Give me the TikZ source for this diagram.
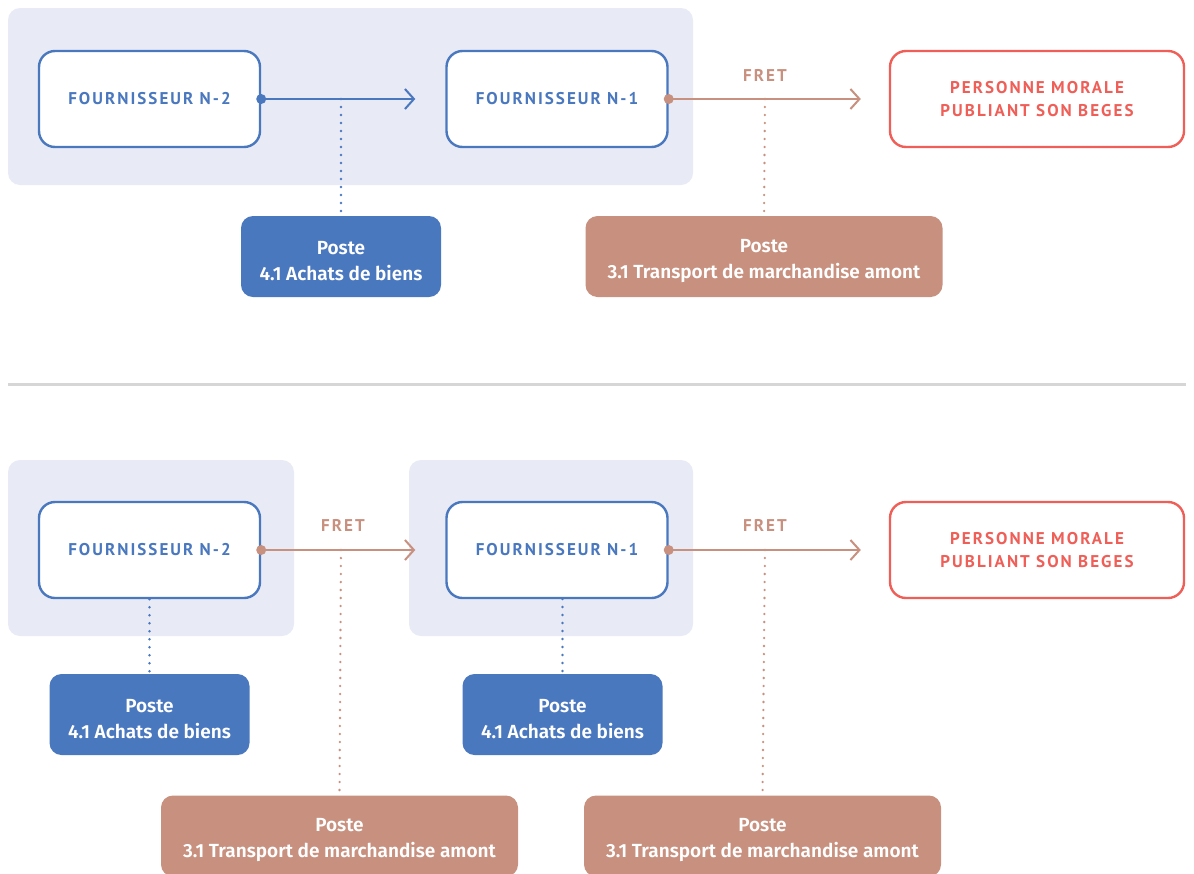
\documentclass[tikz,border=0pt]{standalone}
\usepackage{fontspec}
\usetikzlibrary{arrows.meta}
\setmainfont{Fira Sans}
\newfontfamily\capfont[LetterSpace=12]{PT Sans}
\newfontfamily\postefont{Fira Sans SemiBold}
\definecolor{blueA}{HTML}{4A78BF}
\definecolor{brownA}{HTML}{C8907E}
\definecolor{redA}{HTML}{EF5F58}
\definecolor{grpbg}{HTML}{E8EAF5}
\definecolor{sepgray}{HTML}{D6D6D6}
\newcommand{\topstrut}{\rule{0pt}{22pt}}
\begin{document}
\begin{tikzpicture}[x=1pt,y=-1pt,
  grp/.style={fill=grpbg, rounded corners=12pt},
  ent/.style={draw=blueA, line width=2.4pt, fill=white, rounded corners=16pt,
    minimum width=221pt, minimum height=96pt, inner sep=0pt, align=center,
    text=blueA, font=\capfont\bfseries\fontsize{17}{23}\selectfont},
  entred/.style={ent, draw=redA, text=redA, minimum width=294pt},
  postebox/.style={rounded corners=12pt, minimum height=81pt, inner sep=0pt,
    align=center, text=white, font=\postefont\fontsize{19}{26}\selectfont},
  pblue/.style={postebox, fill=blueA, minimum width=200pt},
  pbrown/.style={postebox, fill=brownA, minimum width=357pt},
  flow/.style={line width=2pt, -{Straight Barb[length=9pt,width=20pt,line width=2pt]}},
  dots/.style={line width=2.6pt, line cap=round, dash pattern=on 0pt off 8pt},
  fretlbl/.style={text=brownA, font=\capfont\bfseries\fontsize{17}{20}\selectfont}
]
\useasboundingbox (0,0) rectangle (1194,873);

% ---------- top ----------
\fill[grp] (8,8) rectangle (693,185);
\node[ent] (a2) at (149.5,99) {FOURNISSEUR N-2};
\node[ent] (a1) at (557,99) {FOURNISSEUR N-1};
\node[entred] (ap) at (1037,99) {PERSONNE MORALE\\PUBLIANT SON BEGES};
\node[pblue] (ab) at (341,256.5) {\topstrut Poste\\4.1 Achats de biens};
\node[pbrown] (at) at (764,256.5) {\topstrut Poste\\3.1 Transport de marchandise amont};
\node[fretlbl] (af) at (765,75) {FRET};

\draw[flow, blueA, shorten >=30pt] (a2.east) -- (a1.west);
\fill[blueA] (a2.east) circle (5pt);
\coordinate (am1) at (341,99);
\draw[dots, blueA] (am1) -- (ab.north);

\draw[flow, brownA, shorten >=28pt] (a1.east) -- (ap.west);
\fill[brownA] (a1.east) circle (5pt);
\coordinate (am2) at (765,99);
\draw[dots, brownA] (am2) -- (at.north);

% ---------- separator ----------
\draw[line width=3pt, sepgray] (8,384) -- (1186,384);

% ---------- bottom ----------
\fill[grp] (8,460) rectangle (294,636);
\fill[grp] (409,460) rectangle (693,636);
\node[ent] (b2) at (149.5,550) {FOURNISSEUR N-2};
\node[ent] (b1) at (557,550) {FOURNISSEUR N-1};
\node[entred] (bp) at (1037,550) {PERSONNE MORALE\\PUBLIANT SON BEGES};
\node[pblue] (bb2) at (149.5,714.5) {\topstrut Poste\\4.1 Achats de biens};
\node[pblue] (bb1) at (562.5,714.5) {\topstrut Poste\\4.1 Achats de biens};
\node[pbrown] (bt2) at (339.5,836) {\topstrut Poste\\3.1 Transport de marchandise amont};
\node[pbrown] (bt1) at (762.5,836) {\topstrut Poste\\3.1 Transport de marchandise amont};
\node[fretlbl] (bf2) at (343,525) {FRET};
\node[fretlbl] (bf1) at (765,525) {FRET};

\draw[flow, brownA, shorten >=30pt] (b2.east) -- (b1.west);
\fill[brownA] (b2.east) circle (5pt);
\draw[flow, brownA, shorten >=28pt] (b1.east) -- (bp.west);
\fill[brownA] (b1.east) circle (5pt);

\draw[dots, blueA] (b2.south) -- (bb2.north);
\coordinate (bs1) at (562.5,599);
\draw[dots, blueA] (bs1) -- (bb1.north);
\coordinate (bm2) at (341,550);
\draw[dots, brownA] (bm2) -- (bt2.north);
\coordinate (bm1) at (765,550);
\draw[dots, brownA] (bm1) -- (bt1.north);
\end{tikzpicture}
\end{document}
